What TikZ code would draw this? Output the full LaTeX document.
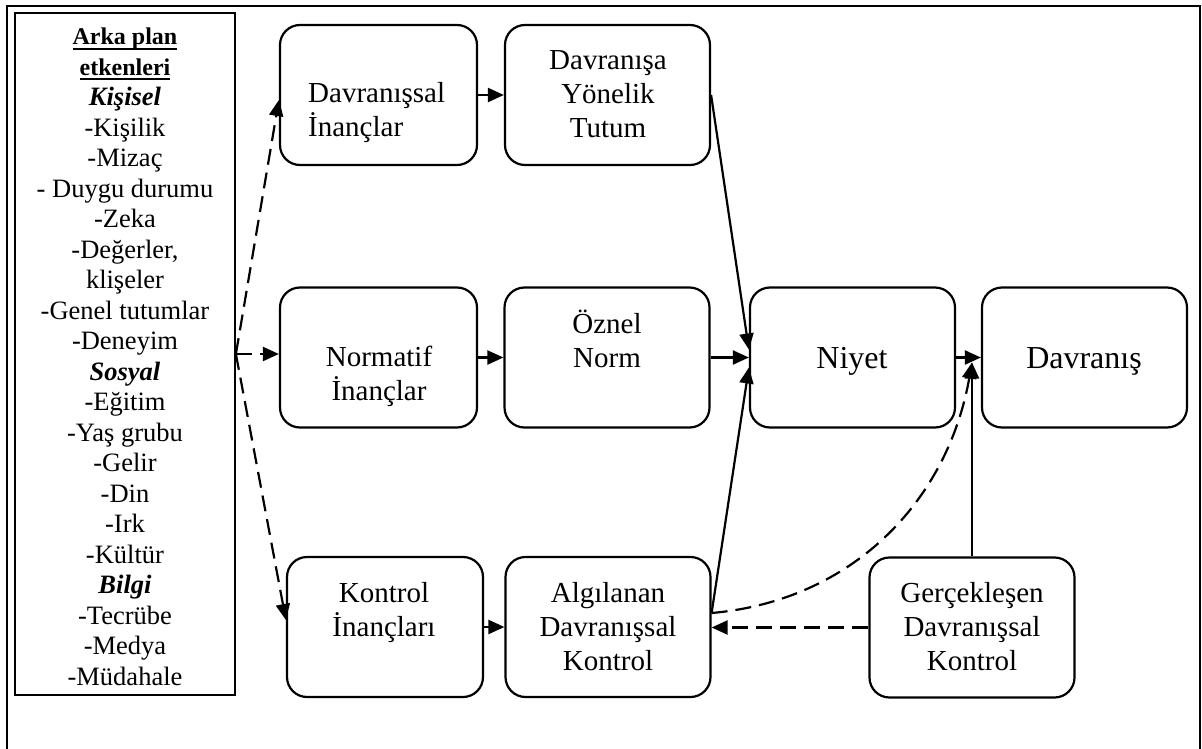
\documentclass[tikz,border=0pt]{standalone}
\usepackage{fontspec}
\setmainfont{Liberation Serif}
\usetikzlibrary{arrows.meta,calc}
% underline drawn as a rule close below the baseline
\newcommand\ulrule[1]{\setbox0\hbox{#1}\rlap{\rule[-5pt]{\wd0}{2pt}}\box0}
\begin{document}
\begin{tikzpicture}[x=1pt,y=-1pt,
  box/.style={draw, line width=2.2pt, rounded corners=20pt, minimum height=140pt, minimum width=#1, inner sep=0pt},
  box/.default=205pt,
  txt/.style={inner sep=0pt, align=center, font=\fontsize{29}{34}\selectfont},
  big/.style={inner sep=0pt, font=\fontsize{32}{36}\selectfont},
  tip/.style={-{Triangle[length=16pt,width=14pt]}},
  conn/.style={tip, line width=2.2pt},
  dconn/.style={tip, line width=2.2pt, dash pattern=on 16pt off 8pt},
]
\useasboundingbox (0,0) rectangle (1202,749);

% outer frame (its bottom edge lies below the page)
\draw[line width=2.4pt] (7,770) -- (7,6) -- (1200,6) -- (1200,770);

% background factors
\node[draw, line width=1.8pt, minimum width=220pt, minimum height=682pt, inner sep=0pt] (lb) at (125,354) {};
\node[anchor=base, align=center, inner sep=0pt, font=\fontsize{26.5}{30.5}\selectfont] (lbt) at (125,685) {%
{\fontsize{24}{30.5}\selectfont\bfseries\ulrule{Arka plan}}\\
{\fontsize{24}{30.5}\selectfont\bfseries\ulrule{etkenleri}}\\
{\bfseries\itshape Kişisel}\\
-Kişilik\\
-Mizaç\\
- Duygu durumu\\
-Zeka\\
-Değerler,\\
klişeler\\
-Genel tutumlar\\
-Deneyim\\
{\bfseries\itshape Sosyal}\\
-Eğitim\\
-Yaş grubu\\
-Gelir\\
-Din\\
-Irk\\
-Kültür\\
{\bfseries\itshape Bilgi}\\
-Tecrübe\\
-Medya\\
-Müdahale};

% model boxes
\node[box=197pt] (bi) at (378.5,95) {};
\node[box] (dy) at (607.5,95) {};
\node[box=197pt] (ni) at (378.5,357.5) {};
\node[box] (on) at (607,357.5) {};
\node[box] (niy) at (852.5,357.5) {};
\node[box] (dv) at (1084.5,357.5) {};
\node[box=196pt] (ki) at (385,627) {};
\node[box] (al) at (608,627) {};
\node[box] (gk) at (972,627.5) {};

% box texts (anchored at the baseline of their last line)
\node[txt, align=left, anchor=base west, font=\fontsize{29}{35}\selectfont] (bit) at (308,137) {Davranışsal\\İnançlar};
\node[txt, anchor=base] (dyt) at (608,138) {Davranışa\\Yönelik\\Tutum};
\node[txt, anchor=base] (nit) at (379,400) {Normatif\\İnançlar};
\node[txt, anchor=base] (ont) at (607,367) {Öznel\\Norm};
\node[big, anchor=base] (niyt) at (852,368) {Niyet};
\node[big, anchor=base] (dvt) at (1084,368) {Davranış};
\node[txt, anchor=base] (kit) at (384,636) {Kontrol\\İnançları};
\node[txt, anchor=base] (alt) at (608,670) {Algılanan\\Davranışsal\\Kontrol};
\node[txt, anchor=base] (gkt) at (972,670) {Gerçekleşen\\Davranışsal\\Kontrol};

% junction points
\coordinate (src) at (lb.east);
\coordinate (vt) at ($(gk.north |- niy.east)+(0,5)$);

% dashed links from the background factors
\draw[dconn] (src) -- ([yshift=-5pt]bi.west);
\draw[dconn] (src) -- (src -| ni.west);
\draw[dconn] (src) -- ([yshift=7pt]ki.west);

% solid links
\draw[conn] (bi.east) -- (dy.west);
\draw[conn] (ni.east) -- (on.west);
\draw[conn] (ki.east) -- (ki.east -| al.west);
\draw[conn] (dy.east) -- ([yshift=8pt]niy.west);
\draw[conn] (on.east) -- (niy.west);
\draw[conn] ([yshift=14pt]al.east) -- ([yshift=-10pt]niy.west);
\draw[conn] (niy.east) -- (dv.west);
\draw[conn] (gk.north) -- (vt);

% dashed feedback links
\draw[dconn] ([yshift=14pt]al.east) to[out=5, in=-100] (vt);
\draw[dconn] (gk.west) -- (gk.west -| al.east);
\end{tikzpicture}
\end{document}
